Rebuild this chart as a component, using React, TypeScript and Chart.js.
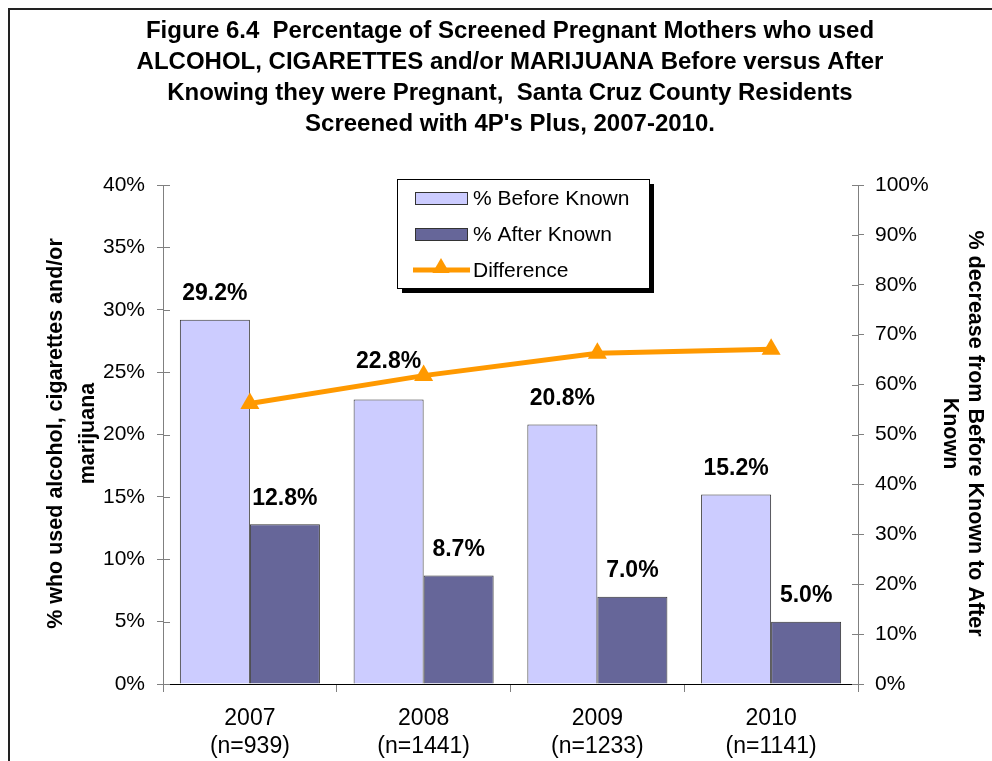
import React, { useEffect, useRef } from "react";
import { Chart, registerables } from "chart.js";

Chart.register(...registerables);

const years = ["2007", "2008", "2009", "2010"];
const sampleSizes = ["(n=939)", "(n=1441)", "(n=1233)", "(n=1141)"];
const beforeKnown = [29.2, 22.8, 20.8, 15.2];
const afterKnown = [12.8, 8.7, 7.0, 5.0];
const differencePct = [56.2, 61.8, 66.3, 67.1];

const leftAxisMax = 40;
const leftAxisStep = 5;
const rightAxisMax = 100;
const rightAxisStep = 10;

const seriesNames = ["% Before Known", "% After Known", "Difference"];
const titleLines = [
  "Figure 6.4  Percentage of Screened Pregnant Mothers who used",
  "ALCOHOL, CIGARETTES and/or MARIJUANA Before versus After",
  "Knowing they were Pregnant,  Santa Cruz County Residents",
  "Screened with 4P's Plus, 2007-2010.",
];
const leftAxisTitle = ["% who used alcohol, cigarettes and/or", "marijuana"];
const rightAxisTitle = ["% decrease from Before Known to After", "Known"];

const FONT = 'Arial, "Liberation Sans", sans-serif';
const BEFORE_COLOR = "#CCCCFF";
const AFTER_COLOR = "#666699";
const LINE_COLOR = "#FF9900";
const AXIS_GRAY = "#808080";

// extra upward shift for individual value labels (dataset, category)
const labelLift = [
  [0, 12, 0, 0],
  [0, 0, 0, 0],
];

function drawTriangle(ctx: CanvasRenderingContext2D, x: number, y: number, r: number) {
  ctx.beginPath();
  ctx.moveTo(x, y - r);
  ctx.lineTo(x + r * 0.866, y + r * 0.5);
  ctx.lineTo(x - r * 0.866, y + r * 0.5);
  ctx.closePath();
  ctx.fill();
}

const decorPlugin = {
  id: "decor",
  beforeDraw(chart: any) {
    const ctx = chart.ctx;
    ctx.save();
    ctx.fillStyle = "#FFFFFF";
    ctx.fillRect(0, 0, chart.width, chart.height);
    ctx.restore();
  },
  afterDatasetsDraw(chart: any) {
    const ctx = chart.ctx;
    ctx.save();
    ctx.font = `bold 23px ${FONT}`;
    ctx.fillStyle = "#000";
    ctx.textAlign = "center";
    ctx.textBaseline = "middle";
    [1, 2].forEach((dsIndex, k) => {
      const meta = chart.getDatasetMeta(dsIndex);
      const values = chart.data.datasets[dsIndex].data;
      meta.data.forEach((bar: any, i: number) => {
        const v = values[i] as number;
        ctx.fillText(v.toFixed(1) + "%", bar.x, bar.y - 26 - labelLift[k][i]);
      });
    });
    ctx.restore();
  },
  afterDraw(chart: any) {
    const ctx = chart.ctx;
    const area = chart.chartArea;
    ctx.save();

    // outer frame
    ctx.strokeStyle = "#222";
    ctx.lineWidth = 2;
    ctx.strokeRect(9, 9, chart.width + 20, chart.height + 20);

    // title
    ctx.fillStyle = "#000";
    ctx.font = `bold 24px ${FONT}`;
    ctx.textAlign = "center";
    ctx.textBaseline = "alphabetic";
    const baselines = [38, 69, 100, 131];
    titleLines.forEach((t, i) => ctx.fillText(t, 510, baselines[i]));

    // inner tick halves
    const yScale = chart.scales.y;
    const y1Scale = chart.scales.y1;
    ctx.strokeStyle = AXIS_GRAY;
    ctx.lineWidth = 1;
    yScale.ticks.forEach((_t: any, i: number) => {
      const py = Math.round(yScale.getPixelForTick(i)) + 0.5;
      ctx.beginPath();
      ctx.moveTo(area.left, py);
      ctx.lineTo(area.left + 7, py);
      ctx.stroke();
    });
    y1Scale.ticks.forEach((_t: any, i: number) => {
      const py = Math.round(y1Scale.getPixelForTick(i)) + 0.5;
      ctx.beginPath();
      ctx.moveTo(area.right - 6, py);
      ctx.lineTo(area.right, py);
      ctx.stroke();
    });

    // axis titles
    const midY = (area.top + area.bottom) / 2 - 1;
    ctx.fillStyle = "#000";
    ctx.font = `bold 21.5px ${FONT}`;
    ctx.textAlign = "center";
    ctx.textBaseline = "middle";
    ctx.save();
    ctx.translate(56, midY);
    ctx.rotate(-Math.PI / 2);
    ctx.fillText(leftAxisTitle[0], 0, 0);
    ctx.fillText(leftAxisTitle[1], 0, 32);
    ctx.restore();
    ctx.save();
    ctx.translate(975, midY);
    ctx.rotate(Math.PI / 2);
    ctx.fillText(rightAxisTitle[0], 0, 0);
    ctx.fillText(rightAxisTitle[1], 0, 25);
    ctx.restore();

    // legend
    const lx = 397, ly = 179, lw = 252, lh = 109;
    ctx.fillStyle = "#000";
    ctx.fillRect(lx + 5, ly + 5, lw, lh);
    ctx.fillStyle = "#FFF";
    ctx.fillRect(lx, ly, lw, lh);
    ctx.strokeStyle = "#000";
    ctx.lineWidth = 1;
    ctx.strokeRect(lx + 0.5, ly + 0.5, lw, lh);

    const rows = [198, 234, 270];
    const swatchColors = [BEFORE_COLOR, AFTER_COLOR];
    swatchColors.forEach((c, i) => {
      ctx.fillStyle = c;
      ctx.fillRect(415, rows[i] - 6, 52, 13);
      ctx.strokeStyle = "#333";
      ctx.strokeRect(415.5, rows[i] - 5.5, 52, 12);
    });
    ctx.strokeStyle = LINE_COLOR;
    ctx.lineWidth = 5;
    ctx.beginPath();
    ctx.moveTo(413, rows[2]);
    ctx.lineTo(470, rows[2]);
    ctx.stroke();
    ctx.fillStyle = LINE_COLOR;
    drawTriangle(ctx, 441, rows[2] - 2, 10);

    ctx.fillStyle = "#000";
    ctx.font = `21px ${FONT}`;
    ctx.textAlign = "left";
    ctx.textBaseline = "middle";
    seriesNames.forEach((n, i) => ctx.fillText(n, 473, rows[i] + 1));

    ctx.restore();
  },
};

export default function App() {
  const canvasRef = useRef<HTMLCanvasElement | null>(null);

  useEffect(() => {
    const canvas = canvasRef.current;
    if (!canvas) return;
    const labels = years.map((y, i) => [y, sampleSizes[i]]);
    const chart = new Chart(canvas, {
      type: "bar",
      data: {
        labels,
        datasets: [
          {
            type: "line",
            label: seriesNames[2],
            data: differencePct,
            yAxisID: "y1",
            borderColor: LINE_COLOR,
            backgroundColor: LINE_COLOR,
            borderWidth: 5,
            pointStyle: "triangle",
            pointRadius: 11,
            pointBorderWidth: 0,
            pointBackgroundColor: LINE_COLOR,
            tension: 0,
            order: 0,
          } as any,
          {
            type: "bar",
            label: seriesNames[0],
            data: beforeKnown,
            yAxisID: "y",
            backgroundColor: BEFORE_COLOR,
            borderColor: "#333",
            borderWidth: 1,
            categoryPercentage: 0.806,
            barPercentage: 1.0,
            order: 1,
          },
          {
            type: "bar",
            label: seriesNames[1],
            data: afterKnown,
            yAxisID: "y",
            backgroundColor: AFTER_COLOR,
            borderColor: "#333",
            borderWidth: 1,
            categoryPercentage: 0.806,
            barPercentage: 1.0,
            order: 1,
          },
        ],
      },
      options: {
        responsive: false,
        animation: false,
        devicePixelRatio: 1,
        layout: { padding: { top: 185, left: 0, right: 0, bottom: 0 } },
        plugins: {
          legend: { display: false },
          title: { display: false },
          tooltip: { enabled: false },
        },
        scales: {
          x: {
            grid: {
              offset: true,
              drawOnChartArea: false,
              drawTicks: true,
              tickLength: 8,
              color: AXIS_GRAY,
            },
            border: { color: "#000", width: 1 },
            ticks: {
              color: "#000",
              font: { family: FONT, size: 23, lineHeight: 1.2 },
              padding: 13,
              maxRotation: 0,
            },
            afterFit: (scale: any) => {
              scale.height = 77;
            },
          },
          y: {
            position: "left",
            min: 0,
            max: leftAxisMax,
            grid: {
              drawOnChartArea: false,
              drawTicks: true,
              tickLength: 6,
              color: AXIS_GRAY,
            },
            border: { color: AXIS_GRAY, width: 1 },
            ticks: {
              stepSize: leftAxisStep,
              color: "#000",
              font: { family: FONT, size: 21 },
              padding: 12,
              callback: (v: any) => v + "%",
            },
            afterFit: (scale: any) => {
              scale.width = 163;
            },
          },
          y1: {
            position: "right",
            min: 0,
            max: rightAxisMax,
            grid: {
              drawOnChartArea: false,
              drawTicks: true,
              tickLength: 6,
              color: AXIS_GRAY,
            },
            border: { color: AXIS_GRAY, width: 1 },
            ticks: {
              stepSize: rightAxisStep,
              color: "#000",
              font: { family: FONT, size: 21 },
              padding: 11,
              callback: (v: any) => v + "%",
            },
            afterFit: (scale: any) => {
              scale.width = 134;
            },
          },
        },
      },
      plugins: [decorPlugin],
    });
    return () => chart.destroy();
  }, []);

  return (
    <div style={{ position: "absolute", left: 0, top: 0, width: 992, height: 761 }}>
      <canvas ref={canvasRef} width={992} height={761} style={{ display: "block" }} />
    </div>
  );
}
